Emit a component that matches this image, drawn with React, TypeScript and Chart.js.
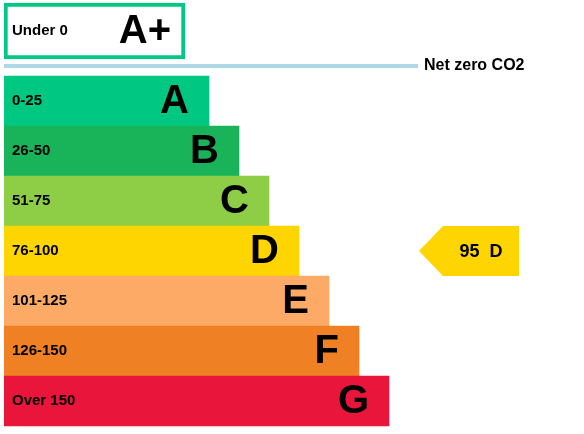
import { useEffect, useRef } from "react";
import { Chart, registerables } from "chart.js";

Chart.register(...registerables);

// Energy bands, top (best) to bottom
const bandLetters = ["A", "B", "C", "D", "E", "F", "G"];
const bandRanges = ["0-25", "26-50", "51-75", "76-100", "101-125", "126-150", "Over 150"];
const bandLengths = [205, 235, 265, 295, 325, 355, 385];
const bandColors = ["#00c781", "#19b459", "#8dce46", "#ffd500", "#fcaa65", "#ef8023", "#e9153b"];

// Net zero band shown above the line
const topLetter = "A+";
const topRange = "Under 0";
const topLength = 181;
const topRow = -1.4;

// Net zero line
const netZeroLabel = "Net zero CO2";
const netZeroRow = -0.7;
const netZeroLength = 414;

// Current rating
const currentScore = 95;
const currentBand = "D";
const arrowTip = 415;
const arrowBody = 439;
const arrowEnd = 515;

const FONT = "'Liberation Sans', Arial, sans-serif";

const labelsPlugin = {
  id: "epcLabels",
  afterDatasetsDraw(chart: any) {
    const { ctx, scales } = chart;
    const x = scales.x;
    const y = scales.y;
    ctx.save();
    ctx.fillStyle = "#000";
    ctx.textBaseline = "middle";

    // band labels
    const bandMeta = chart.getDatasetMeta(0);
    bandMeta.data.forEach((bar: any, i: number) => {
      ctx.font = `bold 15px ${FONT}`;
      ctx.textAlign = "left";
      ctx.fillText(bandRanges[i], bar.base + 8, bar.y);
      ctx.font = `bold 40px ${FONT}`;
      ctx.textAlign = "right";
      ctx.fillText(bandLetters[i], bar.x - 20, bar.y + 1);
    });

    // A+ box labels
    const topBar: any = chart.getDatasetMeta(1).data[0];
    ctx.font = `bold 15px ${FONT}`;
    ctx.textAlign = "left";
    ctx.fillText(topRange, topBar.base + 8, topBar.y);
    ctx.font = `bold 40px ${FONT}`;
    ctx.textAlign = "right";
    ctx.fillText(topLetter, topBar.x - 14, topBar.y + 1);

    // net zero line
    const ly = y.getPixelForValue(netZeroRow);
    ctx.strokeStyle = "#add8e6";
    ctx.lineWidth = 4;
    ctx.beginPath();
    ctx.moveTo(x.getPixelForValue(0), ly);
    ctx.lineTo(x.getPixelForValue(netZeroLength), ly);
    ctx.stroke();
    ctx.font = `bold 16px ${FONT}`;
    ctx.textAlign = "left";
    ctx.fillText(netZeroLabel, x.getPixelForValue(netZeroLength) + 6, ly);

    // current rating arrow
    const row = bandLetters.indexOf(currentBand);
    const cy = y.getPixelForValue(row);
    const half = 25;
    const xt = x.getPixelForValue(arrowTip);
    const xb = x.getPixelForValue(arrowBody);
    const xe = x.getPixelForValue(arrowEnd);
    ctx.fillStyle = bandColors[row];
    ctx.beginPath();
    ctx.moveTo(xt, cy);
    ctx.lineTo(xb, cy - half);
    ctx.lineTo(xe, cy - half);
    ctx.lineTo(xe, cy + half);
    ctx.lineTo(xb, cy + half);
    ctx.closePath();
    ctx.fill();
    ctx.fillStyle = "#000";
    ctx.font = `bold 18px ${FONT}`;
    ctx.textAlign = "center";
    ctx.fillText(`${currentScore}  ${currentBand}`, (xb + xe) / 2, cy + 1);

    ctx.restore();
  },
};

export default function App() {
  const canvasRef = useRef<HTMLCanvasElement>(null);

  useEffect(() => {
    if (!canvasRef.current) return;
    const chart = new Chart(canvasRef.current, {
      type: "bar",
      data: {
        datasets: [
          {
            data: bandLengths.map((v, i) => ({ x: v, y: i })),
            backgroundColor: bandColors,
            borderWidth: 0,
            barThickness: 50,
            stack: "rows",
          },
          {
            data: [{ x: topLength, y: topRow }],
            backgroundColor: "#ffffff",
            borderColor: bandColors[0],
            borderWidth: 4,
            borderSkipped: false,
            barThickness: 56,
            stack: "rows",
          },
        ],
      } as any,
      options: {
        indexAxis: "y",
        animation: false,
        responsive: true,
        maintainAspectRatio: false,
        layout: { padding: { left: 4, right: 0, top: 0, bottom: 0 } },
        plugins: { legend: { display: false }, tooltip: { enabled: false } },
        scales: {
          x: { type: "linear", min: 0, max: 580, display: false, offset: false },
          y: { type: "linear", min: -2.02, max: 6.66, reverse: true, display: false, offset: false },
        },
      },
      plugins: [labelsPlugin],
    });
    return () => chart.destroy();
  }, []);

  return (
    <div style={{ position: "fixed", left: 0, top: 0, width: 584, height: 434, background: "#fff" }}>
      <canvas ref={canvasRef} />
    </div>
  );
}
